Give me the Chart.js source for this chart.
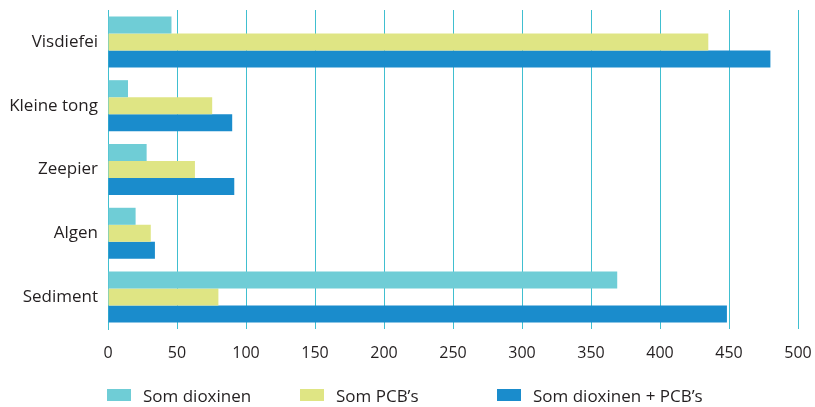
<!DOCTYPE html>
<html>
<head>
<meta charset="utf-8">
<script src="https://cdn.jsdelivr.net/npm/chart.js@4"></script>
<style>
  html, body { margin: 0; padding: 0; background: #fff; }
  #wrap { position: relative; width: 815px; height: 407px; }
  #legend { position: absolute; left: 0; top: 384px; width: 815px; height: 22px;
            font-family: "Open Sans", sans-serif; font-size: 17px; color: #231f20; }
  .item { position: absolute; top: 0; height: 22px; display: flex; align-items: center; }
  .box { width: 24px; height: 12px; margin-right: 12px; }
</style>
</head>
<body>
<div id="wrap">
  <canvas id="chart" width="815" height="407"></canvas>
  <div id="legend"></div>
</div>
<script>
const categories = ["Visdiefei", "Kleine tong", "Zeepier", "Algen", "Sediment"];
const seriesNames = ["Som dioxinen", "Som PCB\u2019s", "Som dioxinen + PCB\u2019s"];
const dioxinen = [46, 14.5, 28, 20, 369];
const pcbs = [435, 75.5, 63, 31, 80];
const totaal = [480, 90, 91.5, 34, 448.5];
const xTicks = [0, 50, 100, 150, 200, 250, 300, 350, 400, 450, 500];

const colors = ["#6fcdd6", "#dfe584", "#1a8ccc"];
const gridColor = "#40bfd0";
const textColor = "#231f20";
const legendLeft = [107, 300, 497];

const ctx = document.getElementById("chart").getContext("2d");
const chart = new Chart(ctx, {
  type: "bar",
  data: {
    labels: categories,
    datasets: [dioxinen, pcbs, totaal].map((d, i) => ({
      label: seriesNames[i],
      data: d,
      backgroundColor: colors[i],
      borderWidth: 0,
      categoryPercentage: 0.8,
      barPercentage: 1.0,
    })),
  },
  options: {
    indexAxis: "y",
    responsive: false,
    animation: false,
    layout: { padding: { top: 10, right: 17, left: 0, bottom: 0 } },
    plugins: {
      legend: { display: false },
      tooltip: { enabled: false },
    },
    scales: {
      x: {
        min: 0,
        max: 500,
        afterBuildTicks: (axis) => {
          axis.ticks = xTicks.map((v) => ({ value: v }));
        },
        afterFit: (axis) => {
          axis.height = 78;
          axis.paddingLeft = 0;
          axis.paddingRight = 0;
        },
        grid: { color: gridColor, lineWidth: 1, drawTicks: false },
        border: { display: false },
        ticks: {
          padding: 15,
          color: textColor,
          font: { family: "Open Sans", size: 16 },
        },
      },
      y: {
        afterFit: (axis) => {
          axis.width = 108;
          axis.paddingTop = 0;
          axis.paddingBottom = 0;
        },
        grid: { display: false, drawTicks: false },
        border: { display: true, color: gridColor, width: 1 },
        ticks: {
          padding: 10,
          color: textColor,
          font: { family: "Open Sans", size: 17 },
        },
      },
    },
  },
});

const legend = document.getElementById("legend");
chart.data.datasets.forEach((ds, i) => {
  const item = document.createElement("div");
  item.className = "item";
  item.style.left = legendLeft[i] + "px";
  const box = document.createElement("span");
  box.className = "box";
  box.style.background = ds.backgroundColor;
  const label = document.createElement("span");
  label.textContent = ds.label;
  item.appendChild(box);
  item.appendChild(label);
  legend.appendChild(item);
});
</script>
</body>
</html>
